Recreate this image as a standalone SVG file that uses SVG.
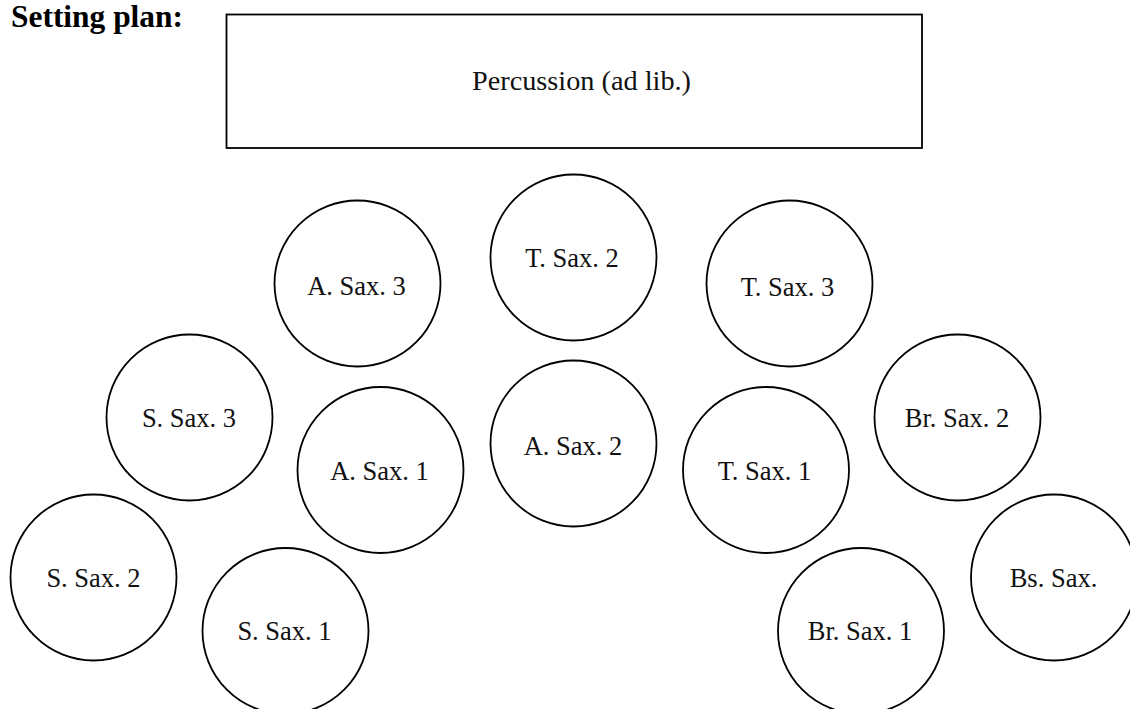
<svg xmlns="http://www.w3.org/2000/svg" width="1130" height="709" viewBox="0 0 1130 709">
<style>
.n{fill:#fff;stroke:#000;stroke-width:1.8}
.t{font-family:"Liberation Serif","Times New Roman",serif;font-size:26.5px;fill:#111;text-anchor:middle}
.title{font-family:"Liberation Serif","Times New Roman",serif;font-size:32px;font-weight:bold;fill:#000}
</style>
<rect width="1130" height="709" fill="#fff"/>
<text class="title" x="11" y="27" textLength="172" lengthAdjust="spacingAndGlyphs">Setting plan:</text>
<g id="percussion">
<rect class="n" x="226.5" y="14.5" width="695.5" height="133.5"/>
<text x="472" y="90" font-family="'Liberation Serif','Times New Roman',serif" font-size="27" fill="#111" textLength="219" lengthAdjust="spacingAndGlyphs">Percussion (ad lib.)</text>
</g>
<g id="tsax2"><circle class="n" cx="573.5" cy="257.5" r="83"/><text class="t" x="572" y="267">T. Sax. 2</text></g>
<g id="asax3"><circle class="n" cx="357.5" cy="283.5" r="83"/><text class="t" x="356.5" y="295">A. Sax. 3</text></g>
<g id="tsax3"><circle class="n" cx="789.5" cy="283.5" r="83"/><text class="t" x="787.5" y="295.5">T. Sax. 3</text></g>
<g id="ssax3"><circle class="n" cx="189.5" cy="417.5" r="83"/><text class="t" x="189" y="427">S. Sax. 3</text></g>
<g id="brsax2"><circle class="n" cx="957.5" cy="417.5" r="83"/><text class="t" x="957" y="427">Br. Sax. 2</text></g>
<g id="asax1"><circle class="n" cx="380.5" cy="470" r="83"/><text class="t" x="379.5" y="480">A. Sax. 1</text></g>
<g id="asax2"><circle class="n" cx="573.5" cy="443.5" r="83"/><text class="t" x="573" y="455">A. Sax. 2</text></g>
<g id="tsax1"><circle class="n" cx="766" cy="470" r="83"/><text class="t" x="764.5" y="480">T. Sax. 1</text></g>
<g id="ssax2"><circle class="n" cx="93.5" cy="577.5" r="83"/><text class="t" x="93.5" y="587">S. Sax. 2</text></g>
<g id="ssax1"><circle class="n" cx="285.5" cy="631" r="83"/><text class="t" x="284.5" y="640">S. Sax. 1</text></g>
<g id="brsax1"><circle class="n" cx="861" cy="631" r="83"/><text class="t" x="860" y="639.5">Br. Sax. 1</text></g>
<g id="bssax"><circle class="n" cx="1054" cy="577.5" r="83"/><text class="t" x="1053.5" y="587">Bs. Sax.</text></g>
<g id="connectors"></g>
</svg>
